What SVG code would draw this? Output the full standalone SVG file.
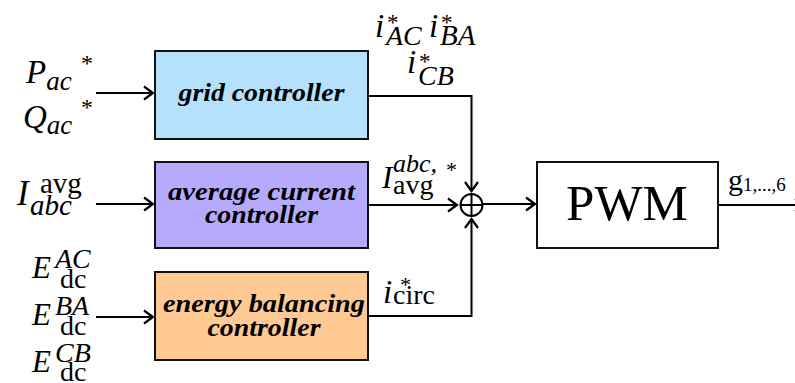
<svg xmlns="http://www.w3.org/2000/svg" width="795" height="383" viewBox="0 0 795 383">
<style>
.box{stroke:#111;stroke-width:2}
.lbl{font-family:'Liberation Serif','Times New Roman',Tinos,Times,serif;font-style:italic;font-weight:bold;font-size:26px;fill:#000}
.m{font-family:'Liberation Serif','Times New Roman',Tinos,Times,serif;font-style:italic;fill:#000}
.r{font-family:'Liberation Serif','Times New Roman',Tinos,Times,serif;fill:#000;font-style:normal}
.wire{fill:none;stroke:#000;stroke-width:2}
</style>
<defs>
<marker id="ah" markerUnits="userSpaceOnUse" markerWidth="14" markerHeight="16" refX="11" refY="8" orient="auto">
<polyline points="2,1.5 11,8 2,14.5" fill="none" stroke="#000" stroke-width="2.2"/>
</marker>
</defs>
<rect width="795" height="383" fill="#fff"/>

<g id="grid-controller">
<rect class="box" x="155" y="51" width="213" height="88" fill="#b5e1fd"/>
<text class="lbl" x="261.5" y="101" text-anchor="middle" textLength="166" lengthAdjust="spacingAndGlyphs">grid controller</text>
</g>
<g id="average-current-controller">
<rect class="box" x="155" y="162" width="213" height="86" fill="#b5aafc"/>
<text class="lbl" x="261.5" y="200" text-anchor="middle" textLength="187" lengthAdjust="spacingAndGlyphs">average current</text>
<text class="lbl" x="261.5" y="223" text-anchor="middle" textLength="113" lengthAdjust="spacingAndGlyphs">controller</text>
</g>
<g id="energy-balancing-controller">
<rect class="box" x="155" y="272" width="213" height="88" fill="#fec993"/>
<text class="lbl" x="264" y="312" text-anchor="middle" textLength="202" lengthAdjust="spacingAndGlyphs">energy balancing</text>
<text class="lbl" x="264" y="336" text-anchor="middle" textLength="113" lengthAdjust="spacingAndGlyphs">controller</text>
</g>
<g id="sum">
<circle cx="471.5" cy="205" r="11" fill="#fff" stroke="#000" stroke-width="2"/>
<line x1="460.5" y1="205" x2="482.5" y2="205" stroke="#000" stroke-width="2"/>
<line x1="471.5" y1="194" x2="471.5" y2="216" stroke="#000" stroke-width="2"/>
</g>
<g id="pwm">
<rect class="box" x="537" y="162" width="181" height="86" fill="#fff"/>
<text class="r" x="627" y="220" text-anchor="middle" font-size="51">PWM</text>
</g>

<g id="connectors">
<line class="wire" x1="96" y1="93" x2="153" y2="93" marker-end="url(#ah)"/>
<line class="wire" x1="96" y1="204" x2="153" y2="204" marker-end="url(#ah)"/>
<line class="wire" x1="96" y1="317" x2="153" y2="317" marker-end="url(#ah)"/>
<polyline class="wire" points="368,96 471.5,96 471.5,191" marker-end="url(#ah)"/>
<line class="wire" x1="368" y1="205" x2="457" y2="205" marker-end="url(#ah)"/>
<polyline class="wire" points="368,316 471.5,316 471.5,219" marker-end="url(#ah)"/>
<line class="wire" x1="482.5" y1="204" x2="535" y2="204" marker-end="url(#ah)"/>
<line class="wire" x1="718" y1="205" x2="804" y2="205" marker-end="url(#ah)"/>
</g>

<g id="labels">
<text class="m" x="26" y="83" font-size="33">P<tspan font-size="27" dy="7">ac</tspan></text>
<text class="r" x="81" y="71" font-size="24">*</text>
<text class="m" x="23" y="128" font-size="33">Q<tspan font-size="27" dy="6">ac</tspan></text>
<text class="r" x="81" y="115" font-size="24">*</text>

<text class="m" x="17" y="205" font-size="35">I</text>
<text class="r" x="40" y="193" font-size="29">avg</text>
<text class="m" x="30" y="215" font-size="29">abc</text>

<text class="m" x="32" y="278" font-size="31">E</text>
<text class="m" x="55" y="268" font-size="28">AC</text>
<text class="r" x="60" y="288" font-size="28">dc</text>
<text class="m" x="32" y="325" font-size="31">E</text>
<text class="m" x="55" y="315" font-size="28">BA</text>
<text class="r" x="60" y="335" font-size="28">dc</text>
<text class="m" x="32" y="372" font-size="31">E</text>
<text class="m" x="55" y="362" font-size="28">CB</text>
<text class="r" x="60" y="381" font-size="28">dc</text>

<text class="m" x="375" y="37" font-size="33">i</text>
<text class="r" x="387" y="30" font-size="23">*</text>
<text class="m" x="386" y="45" font-size="28">AC</text>
<text class="m" x="429" y="37" font-size="33">i</text>
<text class="r" x="441" y="30" font-size="23">*</text>
<text class="m" x="440" y="45" font-size="29">BA</text>
<text class="m" x="407" y="73" font-size="33">i</text>
<text class="r" x="419" y="69" font-size="23">*</text>
<text class="m" x="418" y="85" font-size="28">CB</text>

<text class="m" x="382" y="188" font-size="31">I</text>
<text class="m" x="393" y="172" font-size="26">abc,</text>
<text class="r" x="446" y="177" font-size="22">*</text>
<text class="r" x="393" y="194" font-size="28">avg</text>

<text class="m" x="383" y="303" font-size="33">i</text>
<text class="r" x="400" y="292" font-size="22">*</text>
<text class="r" x="393" y="304" font-size="28">circ</text>

<text class="r" x="728" y="190" font-size="30">g<tspan font-size="19" dy="1">1,...,6</tspan></text>
</g>
</svg>
